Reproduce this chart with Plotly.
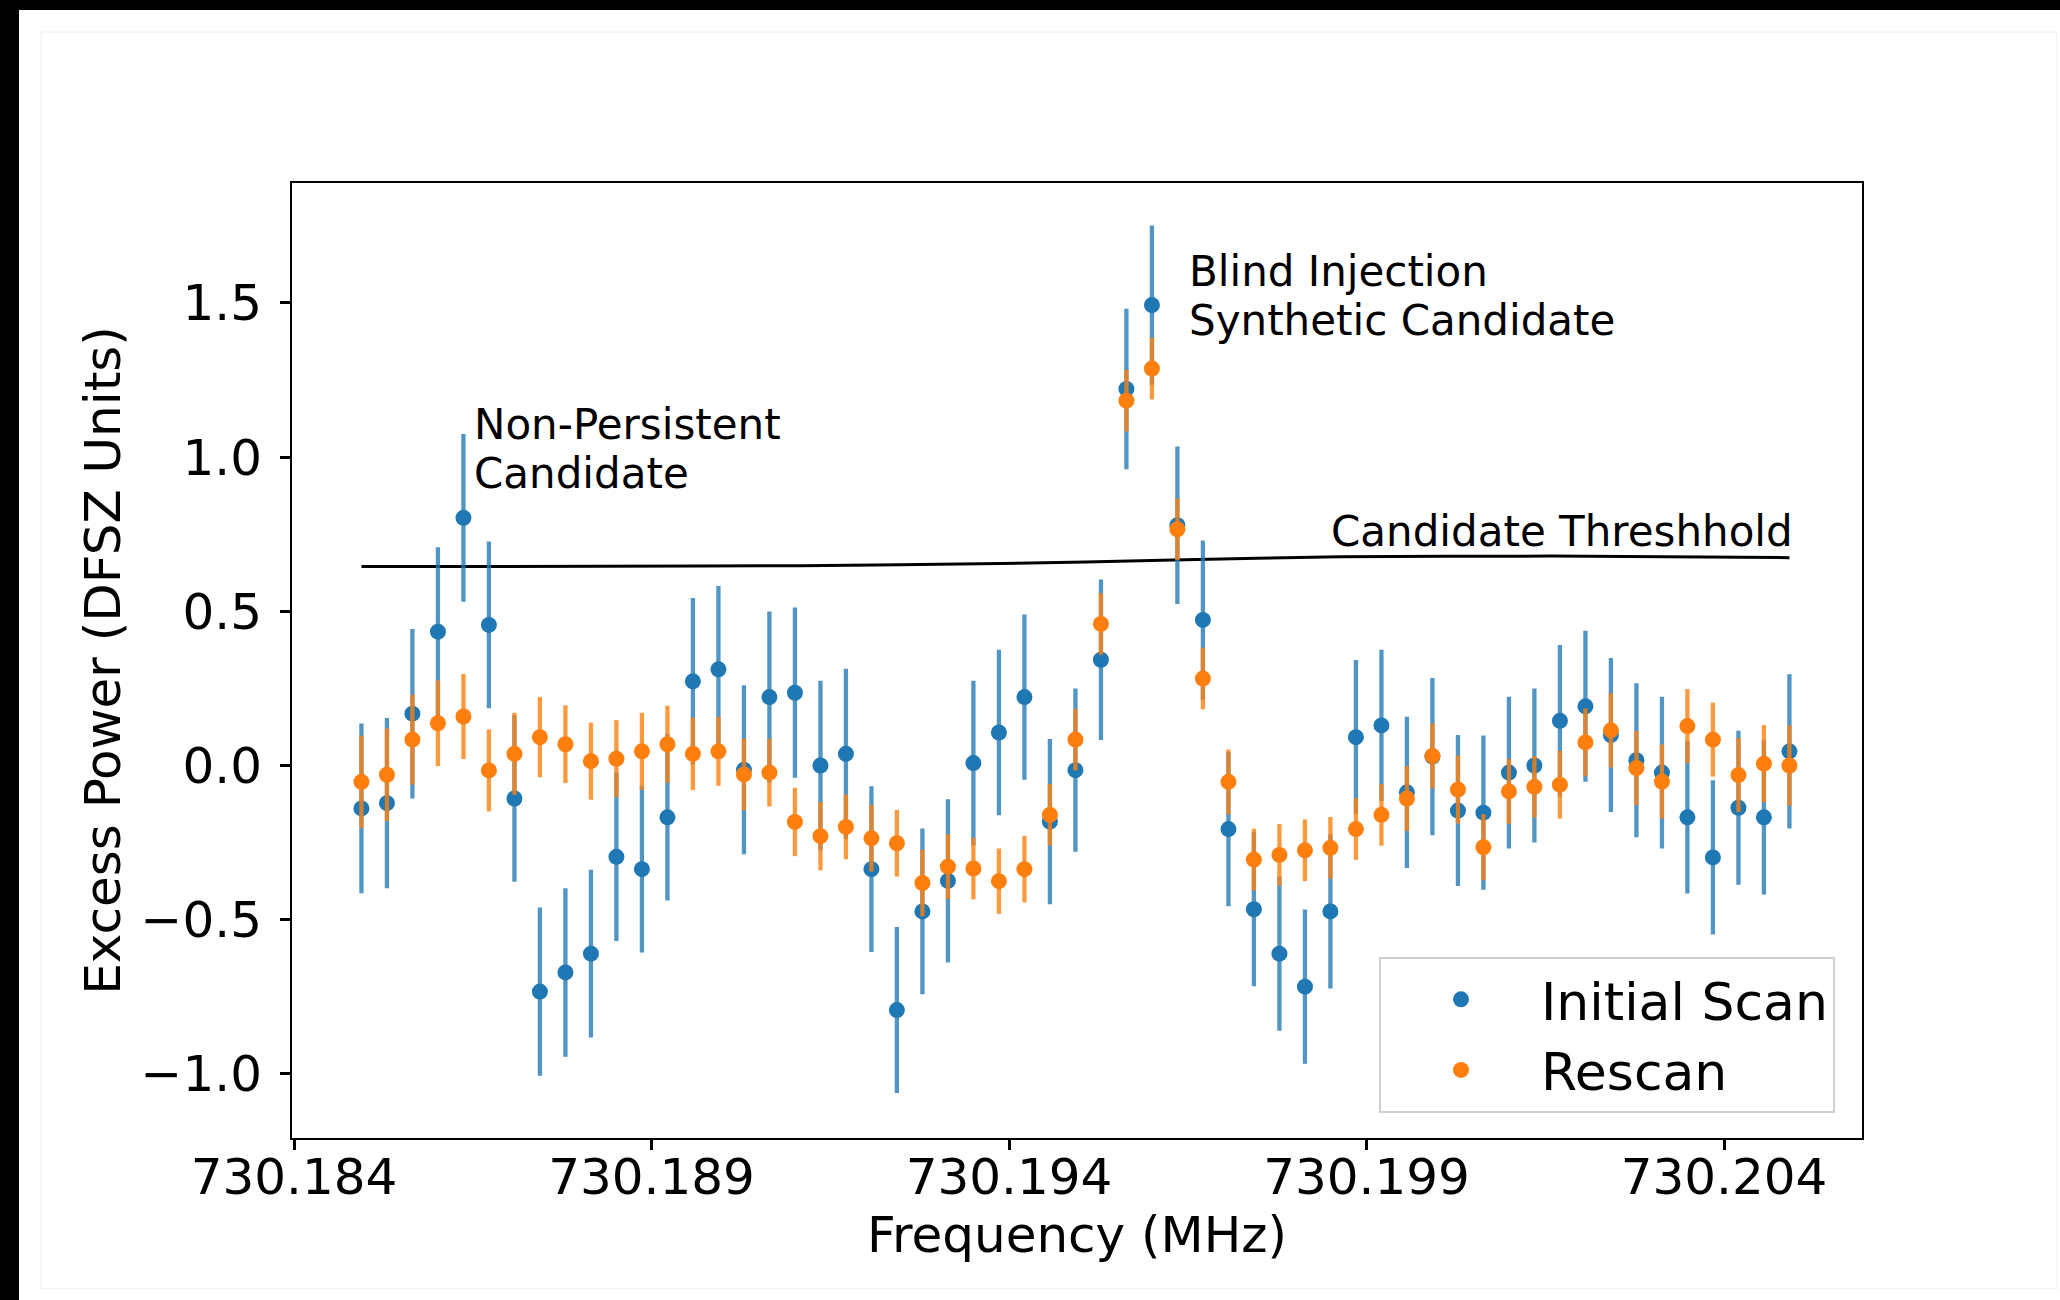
import plotly.graph_objects as go

# ---------------- data ----------------
frequency_mhz = [
    730.184943, 730.185300, 730.185656, 730.186013, 730.186370, 730.186726,
    730.187083, 730.187439, 730.187796, 730.188153, 730.188509, 730.188866,
    730.189223, 730.189579, 730.189936, 730.190293, 730.190649, 730.191006,
    730.191363, 730.191719, 730.192076, 730.192432, 730.192789, 730.193146,
    730.193502, 730.193859, 730.194216, 730.194572, 730.194929, 730.195286,
    730.195642, 730.195999, 730.196355, 730.196712, 730.197069, 730.197425,
    730.197782, 730.198139, 730.198495, 730.198852, 730.199209, 730.199565,
    730.199922, 730.200279, 730.200635, 730.200992, 730.201348, 730.201705,
    730.202062, 730.202418, 730.202775, 730.203132, 730.203488, 730.203845,
    730.204202, 730.204558, 730.204915,
]

initial_power = [
    -0.139, -0.122, 0.168, 0.434, 0.803, 0.456, -0.107, -0.733, -0.671, -0.610,
    -0.296, -0.336, -0.168, 0.273, 0.312, -0.014, 0.222, 0.236, 0.000, 0.038,
    -0.336, -0.793, -0.473, -0.374, 0.008, 0.107, 0.222, -0.182, -0.015, 0.343,
    1.221, 1.493, 0.779, 0.472, -0.206, -0.466, -0.610, -0.717, -0.473, 0.092,
    0.130, -0.087, 0.029, -0.146, -0.153, -0.023, 0.000, 0.145, 0.192, 0.099,
    0.017, -0.023, -0.168, -0.298, -0.137, -0.168, 0.046,
]
initial_err = [
    0.275, 0.276, 0.275, 0.274, 0.272, 0.270, 0.270, 0.273, 0.273, 0.272,
    0.273, 0.270, 0.270, 0.270, 0.270, 0.274, 0.277, 0.276, 0.275, 0.276,
    0.269, 0.269, 0.269, 0.265, 0.267, 0.268, 0.268, 0.268, 0.265, 0.260,
    0.260, 0.258, 0.255, 0.258, 0.250, 0.250, 0.250, 0.250, 0.250, 0.250,
    0.245, 0.245, 0.255, 0.245, 0.250, 0.246, 0.250, 0.246, 0.245, 0.250,
    0.250, 0.246, 0.247, 0.250, 0.250, 0.250, 0.250,
]

rescan_power = [
    -0.053, -0.030, 0.084, 0.137, 0.159, -0.016, 0.038, 0.092, 0.069, 0.014,
    0.022, 0.046, 0.069, 0.038, 0.046, -0.029, -0.023, -0.183, -0.229, -0.199,
    -0.236, -0.252, -0.381, -0.328, -0.334, -0.375, -0.336, -0.160, 0.084, 0.459,
    1.183, 1.287, 0.766, 0.282, -0.053, -0.305, -0.290, -0.275, -0.267, -0.206,
    -0.160, -0.107, 0.031, -0.078, -0.265, -0.084, -0.069, -0.062, 0.075, 0.114,
    -0.008, -0.052, 0.128, 0.084, -0.031, 0.006, 0.000,
]
rescan_err = [
    0.150, 0.150, 0.146, 0.139, 0.138, 0.133, 0.133, 0.130, 0.126, 0.125,
    0.125, 0.125, 0.125, 0.118, 0.112, 0.116, 0.110, 0.111, 0.111, 0.105,
    0.108, 0.108, 0.108, 0.105, 0.100, 0.106, 0.108, 0.100, 0.100, 0.100,
    0.100, 0.100, 0.100, 0.100, 0.105, 0.100, 0.100, 0.100, 0.100, 0.100,
    0.100, 0.105, 0.105, 0.110, 0.107, 0.105, 0.100, 0.110, 0.110, 0.120,
    0.120, 0.120, 0.120, 0.120, 0.120, 0.125, 0.130,
]

threshold_freq = [730.184943, 730.188280, 730.191077, 730.193874,
                  730.196294, 730.198629, 730.201566, 730.204915]
threshold_vals = [0.645, 0.646, 0.648, 0.655, 0.666, 0.677, 0.679, 0.674]

x_tick_vals = [730.184, 730.189, 730.194, 730.199, 730.204]
x_tick_text = ["730.184", "730.189", "730.194", "730.199", "730.204"]
y_tick_vals = [-1.0, -0.5, 0.0, 0.5, 1.0, 1.5]

# ---------------- styling ----------------
FONT = "DejaVu Sans"
BLUE = "#1f77b4"
ORANGE = "#ff7f0e"

W, H = 2060, 1300
ML, MR, MT, MB = 292, 198, 183, 162
PW, PH = W - ML - MR, H - MT - MB


def px_x(px):
    return (px - ML) / PW


def px_y(py):
    return (H - MB - py) / PH


fig = go.Figure()

fig.add_trace(go.Scatter(
    x=threshold_freq, y=threshold_vals, mode="lines",
    line=dict(color="black", width=3, shape="spline", smoothing=0.6),
    showlegend=False, hoverinfo="skip",
))

fig.add_trace(go.Scatter(
    x=frequency_mhz, y=initial_power, mode="markers", name="Initial Scan",
    marker=dict(color=BLUE, size=16),
    error_y=dict(type="data", array=initial_err, visible=True,
                 color="rgba(31,119,180,0.78)", thickness=4.3, width=0),
))

fig.add_trace(go.Scatter(
    x=frequency_mhz, y=rescan_power, mode="markers", name="Rescan",
    marker=dict(color=ORANGE, size=16),
    error_y=dict(type="data", array=rescan_err, visible=True,
                 color="rgba(255,127,14,0.8)", thickness=4.3, width=0),
))

ann_font = dict(family=FONT, size=42, color="black")
annotations = [
    dict(x=730.18651, y=1.107, text="Non-Persistent"),
    dict(x=730.18651, y=0.948, text="Candidate"),
    dict(x=730.19651, y=1.601, text="Blind Injection"),
    dict(x=730.19651, y=1.443, text="Synthetic Candidate"),
]
for a in annotations:
    fig.add_annotation(x=a["x"], y=a["y"], text=a["text"], xref="x", yref="y",
                       xanchor="left", yanchor="middle", showarrow=False,
                       font=ann_font, borderpad=0)
fig.add_annotation(x=730.20498, y=0.759, text="Candidate Threshhold",
                   xref="x", yref="y", xanchor="right", yanchor="middle",
                   showarrow=False, font=ann_font, borderpad=0)

# black frame at the top and left of the picture, faint outer border
shapes = [
    dict(type="rect", xref="paper", yref="paper",
         x0=px_x(-5), x1=px_x(W + 5), y0=px_y(10), y1=px_y(-5),
         fillcolor="black", line=dict(width=0), layer="above"),
    dict(type="rect", xref="paper", yref="paper",
         x0=px_x(-5), x1=px_x(19), y0=px_y(H + 5), y1=px_y(-5),
         fillcolor="black", line=dict(width=0), layer="above"),
    dict(type="rect", xref="paper", yref="paper",
         x0=px_x(41), x1=px_x(2057), y0=px_y(1289), y1=px_y(32),
         fillcolor="rgba(0,0,0,0)", line=dict(width=1, color="#eeeeee"),
         layer="below"),
]

fig.update_layout(
    width=W, height=H,
    margin=dict(l=ML, r=MR, t=MT, b=MB, pad=0),
    paper_bgcolor="white", plot_bgcolor="white",
    font=dict(family=FONT, size=50, color="black"),
    shapes=shapes,
    showlegend=True,
    legend=dict(
        x=px_x(1835), y=px_y(1113), xanchor="right", yanchor="bottom",
        bgcolor="rgba(255,255,255,0.8)", bordercolor="#d0d0d0", borderwidth=2,
        font=dict(family=FONT, size=52, color="black"),
        itemwidth=150, tracegroupgap=0,
    ),
    xaxis=dict(
        range=[730.183972, 730.205930], tickmode="array",
        tickvals=x_tick_vals, ticktext=x_tick_text,
        ticks="outside", ticklen=10, tickwidth=2.5, tickcolor="black",
        showline=True, linecolor="black", linewidth=2, mirror=True,
        showgrid=False, zeroline=False, ticklabelstandoff=-16,
        tickfont=dict(family=FONT, size=50, color="black"),
        title=dict(text="Frequency (MHz)", font=dict(family=FONT, size=50),
                   standoff=6),
    ),
    yaxis=dict(
        range=[-1.2078, 1.8888], tickmode="array", tickvals=y_tick_vals,
        tickformat=".1f",
        ticks="outside", ticklen=10, tickwidth=2.5, tickcolor="black",
        showline=True, linecolor="black", linewidth=2, mirror=True,
        showgrid=False, zeroline=False, ticklabelstandoff=8,
        tickfont=dict(family=FONT, size=50, color="black"),
        title=dict(text="Excess Power (DFSZ Units)",
                   font=dict(family=FONT, size=50), standoff=4),
    ),
)

fig.write_html("out.html")
